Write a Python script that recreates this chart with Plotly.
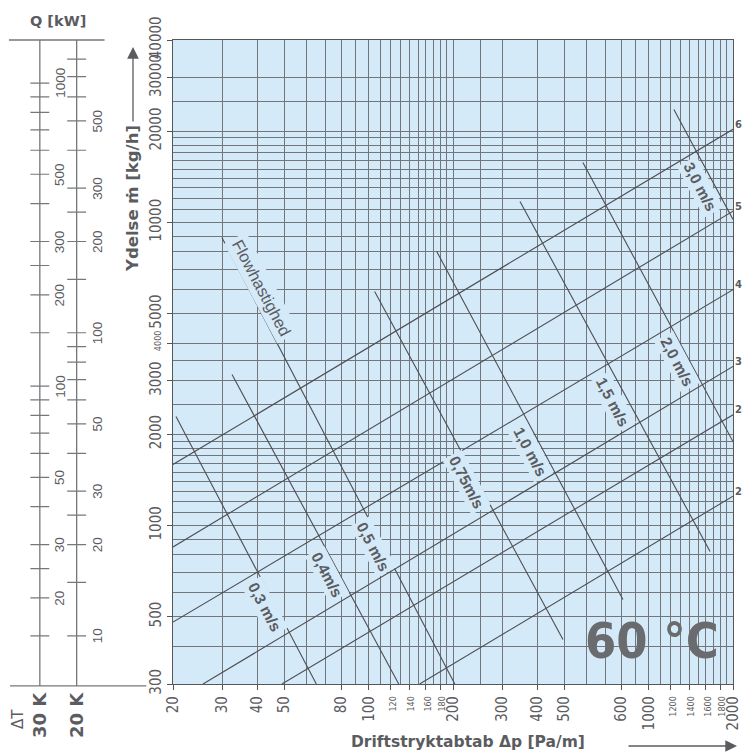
import numpy as np
import plotly.graph_objects as go

# ---------------- data ----------------
# pressure loss axis  [Pa/m]
x_tick_vals = [20, 30, 40, 50, 80, 100, 120, 140, 160, 180, 200, 300, 400, 500, 800,
               1000, 1200, 1400, 1600, 1800, 2000]
x_tick_labels = ["20", "30", "40", "50", "80", "100", "120", "140", "160", "180", "200",
                 "300", "400", "500", "600", "1000", "1200", "1400", "1600", "1800", "2000"]
x_small_labels = ["120", "140", "160", "180", "1200", "1400", "1600", "1800"]
x_grid = ([30, 40, 50, 60, 70, 80, 90, 100] + list(range(110, 201, 10)) + [250] +
          list(range(300, 1001, 100)) + list(range(1100, 2001, 100)))

# mass flow axis  [kg/h]
y_tick_vals = [300, 500, 1000, 2000, 3000, 4000, 5000, 10000, 20000, 30000, 40000]
y_tick_labels = ["300", "500", "1000", "2000", "3000", "4000", "5000", "10000", "20000",
                 "30000", "40000"]
y_small_labels = ["4000"]
y_grid = (list(range(400, 1001, 100)) + list(range(1100, 2001, 100)) + [2500, 3000, 3500] +
          list(range(4000, 10001, 1000)) + list(range(11000, 20001, 1000)) + [25000, 30000])

# pipe lines (rising): start / end points  (dp [Pa/m], flow [kg/h])
pipe_names = ["6", "5", "4", "3", "2", "2"]
pipe_dp_start = [20, 20, 20, 25.6, 49, 152]
pipe_flow_start = [1590, 850, 480, 300, 300, 300]
pipe_dp_end = [2000, 2000, 2000, 2000, 2000, 2000]
pipe_flow_end = [20300, 10900, 6000, 3350, 2320, 1250]

# velocity lines (falling)
vel_labels = ["0,3 m/s", "0,4m/s", "0,5 m/s", "0,75m/s", "1,0 m/s", "1,5 m/s", "2,0 m/s", "3,0 m/s"]
vel_dp_start = [20.5, 32.5, 29.9, 105, 175, 347, 582, 1230]
vel_flow_start = [2290, 3150, 8920, 5920, 8020, 11730, 15780, 23600]
vel_dp_end = [65, 128, 203, 494, 809, 1656, 2000, 2000]
vel_flow_end = [300, 300, 300, 421, 570, 821, 1893, 10230]

# heat output scales  Q [kW]
dT_30 = 30
dT_20 = 20
q30_ticks = [1000, 900, 800, 700, 600, 500, 400, 300, 250, 200, 150, 100, 90, 80, 70, 60,
             50, 40, 30, 25, 20, 15]
q30_labels = [1000, 500, 300, 200, 100, 50, 30, 20]
q20_ticks = [800, 700, 600, 500, 400, 300, 250, 200, 150, 100, 90, 80, 70, 60, 50, 40, 30,
             25, 20, 15, 10]
q20_labels = [500, 300, 200, 100, 50, 30, 20, 10]
cp_water = 4.16  # kJ/(kg K)

# label anchor points (dp, flow) for the velocity labels
vel_label_pos = [(42.6, 536), (70.9, 689), (103.6, 853), (224, 1387), (377, 1754),
                 (745, 2546), (1262, 3477), (1525, 13150)]
flow_title_pos = (41.6, 6100)

# ---------------- layout constants ----------------
W, H = 743, 753
MT, MB = 40, 69
PH = H - MT - MB
PL, PR = 173, 733

BG = "#d5eaf9"
GRID = "#72757a"
LINE = "#4d4e51"
TXT = "#5b5c5f"
NARROW = "DejaVu Sans Condensed, Liberation Sans Narrow, sans-serif"
SANS = "Liberation Sans, Arial, sans-serif"
DJ = "DejaVu Sans, sans-serif"


def px(xp):
    return xp / W


def py(yp):
    return (H - MB - yp) / PH


def small(t):
    return f'<span style="font-size:9px">{t}</span>'


fig = go.Figure()

# pipe lines
for i in range(len(pipe_names)):
    fig.add_trace(go.Scatter(x=[pipe_dp_start[i], pipe_dp_end[i]],
                             y=[pipe_flow_start[i], pipe_flow_end[i]],
                             mode="lines", line=dict(color=LINE, width=1.1),
                             hoverinfo="skip", showlegend=False))
# velocity lines
for i in range(len(vel_labels)):
    fig.add_trace(go.Scatter(x=[vel_dp_start[i], vel_dp_end[i]],
                             y=[vel_flow_start[i], vel_flow_end[i]],
                             mode="lines", line=dict(color=LINE, width=1.1),
                             hoverinfo="skip", showlegend=False))


# ---- left Q scales (own axes x2/y2, y2 identical to y) ----
def flow_from_q(q, dT):
    return q * 3600.0 / (cp_water * dT)


scale_x = {dT_30: 40, dT_20: 77}
label_x = {dT_30: 60, dT_20: 98}
for dT, ticks, labels in [(dT_30, q30_ticks, q30_labels), (dT_20, q20_ticks, q20_labels)]:
    xs, ys = [], []
    for q in ticks:
        m = flow_from_q(q, dT)
        xs += [scale_x[dT] - 9.5, scale_x[dT] + 9.5, None]
        ys += [m, m, None]
    fig.add_trace(go.Scatter(x=xs, y=ys, xaxis="x2", yaxis="y2", mode="lines",
                             line=dict(color="#75777b", width=1.2), hoverinfo="skip",
                             showlegend=False))
    for q in labels:
        fig.add_annotation(x=label_x[dT], y=np.log10(flow_from_q(q, dT)), xref="x2", yref="y2",
                           text=str(q), showarrow=False, textangle=-90,
                           xanchor="center", yanchor="middle",
                           font=dict(family=SANS, size=13.5, color=TXT))

# background of the main chart
fig.add_shape(type="rect", xref="x domain", yref="y domain", x0=0, x1=1, y0=0, y1=1,
              fillcolor=BG, line=dict(width=0), layer="below")

# left panel frame lines
for xv in scale_x.values():
    fig.add_shape(type="line", xref="x2", yref="y2 domain", x0=xv, x1=xv, y0=-0.003, y1=1,
                  line=dict(color="#75777b", width=1.3))
fig.add_shape(type="line", xref="x2", yref="y2 domain", x0=9, x1=105, y0=1, y1=1,
              line=dict(color="#75777b", width=1.3))
fig.add_shape(type="line", xref="x2", yref="y2 domain", x0=10, x1=147, y0=-0.003, y1=-0.003,
              line=dict(color="#75777b", width=1.3))

# velocity labels
for lab, (xd, yd) in zip(vel_labels, vel_label_pos):
    fig.add_annotation(x=np.log10(xd), y=np.log10(yd), xref="x", yref="y",
                       text=f"<b>{lab}</b>", showarrow=False, textangle=62,
                       xanchor="center", yanchor="middle",
                       font=dict(family=SANS, size=15.5, color=TXT), bgcolor=BG, borderpad=2)
fig.add_annotation(x=np.log10(flow_title_pos[0]), y=np.log10(flow_title_pos[1]), xref="x", yref="y",
                   text="Flowhastighed", showarrow=False, textangle=62,
                   xanchor="center", yanchor="middle",
                   font=dict(family=SANS, size=16.5, color=TXT), bgcolor=BG, borderpad=3)

# pipe labels at the right edge
for name, fe in zip(pipe_names, pipe_flow_end):
    fig.add_annotation(x=np.log10(2000), y=np.log10(fe), xref="x", yref="y",
                       text=f"<b>{name}</b>", showarrow=False,
                       xanchor="center", yanchor="middle", xshift=5, yshift=5,
                       font=dict(family=DJ, size=10, color=TXT))


def paper_text(x, y, text, size, family=DJ, angle=0, color=TXT):
    fig.add_annotation(x=px(x), y=py(y), xref="paper", yref="paper", text=text,
                       showarrow=False, textangle=angle, xanchor="center", yanchor="middle",
                       font=dict(family=family, size=size, color=color))


# big temperature label
paper_text(652, 641, "<b>60 °C</b>", 50, family=NARROW, color="#6a6b6e")
# titles
paper_text(58, 21, "<b>Q [kW]</b>", 14.5)
paper_text(18, 719, "ΔT", 15, angle=-90)
paper_text(40, 715, "<b>30 K</b>", 18, angle=-90)
paper_text(77, 715, "<b>20 K</b>", 18, angle=-90)
paper_text(132, 199, "<b>Ydelse ṁ [kg/h]</b>", 16.5, angle=-90)
paper_text(468, 742, "<b>Driftstryktabtab Δp [Pa/m]</b>", 15.5)

# arrows
fig.add_annotation(x=px(133), y=py(47), xref="paper", yref="paper", ax=0, ay=76, text="",
                   showarrow=True, arrowhead=2, arrowsize=1.8, arrowwidth=1.3, arrowcolor=TXT)
fig.add_annotation(x=px(737), y=py(746), xref="paper", yref="paper", ax=-110, ay=0, text="",
                   showarrow=True, arrowhead=2, arrowsize=1.8, arrowwidth=1.3, arrowcolor=TXT)

x_text = [small(t) if t in x_small_labels else t for t in x_tick_labels]
y_text = [small(t) if t in y_small_labels else t for t in y_tick_labels]

fig.update_layout(
    width=W, height=H,
    margin=dict(l=0, r=0, t=MT, b=MB, autoexpand=False),
    paper_bgcolor="white", plot_bgcolor="rgba(0,0,0,0)",
    showlegend=False,
    xaxis=dict(type="log", range=[np.log10(20), np.log10(2000)], domain=[PL / W, PR / W],
               tickmode="array", tickvals=x_tick_vals, ticktext=x_text, tickangle=-90,
               tickfont=dict(family=NARROW, size=15, color=TXT),
               ticks="outside", ticklen=5, tickcolor="#555",
               showgrid=True, gridcolor=GRID, gridwidth=1,
               minor=dict(tickmode="array", tickvals=x_grid, showgrid=True, gridcolor=GRID,
                          gridwidth=1, ticks=""),
               showline=True, linecolor="#55575a", linewidth=1.2, mirror=True, zeroline=False,
               anchor="y"),
    yaxis=dict(type="log", range=[np.log10(300), np.log10(40000)], domain=[0, 1],
               tickmode="array", tickvals=y_tick_vals, ticktext=y_text, tickangle=-90,
               tickfont=dict(family=NARROW, size=15, color=TXT),
               ticks="outside", ticklen=5, tickcolor="#555",
               showgrid=True, gridcolor=GRID, gridwidth=1,
               minor=dict(tickmode="array", tickvals=y_grid, showgrid=True, gridcolor=GRID,
                          gridwidth=1, ticks=""),
               showline=True, linecolor="#55575a", linewidth=1.2, mirror=True, zeroline=False,
               anchor="x"),
    xaxis2=dict(domain=[0, PL / W - 0.001], range=[0, PL], visible=False, anchor="y2"),
    yaxis2=dict(type="log", range=[np.log10(300), np.log10(40000)], domain=[0, 1],
                visible=False, anchor="x2"),
)

fig.write_html("out.html", config={"displayModeBar": False},
               post_script="document.body.style.margin='0';document.body.style.overflow='hidden';")
